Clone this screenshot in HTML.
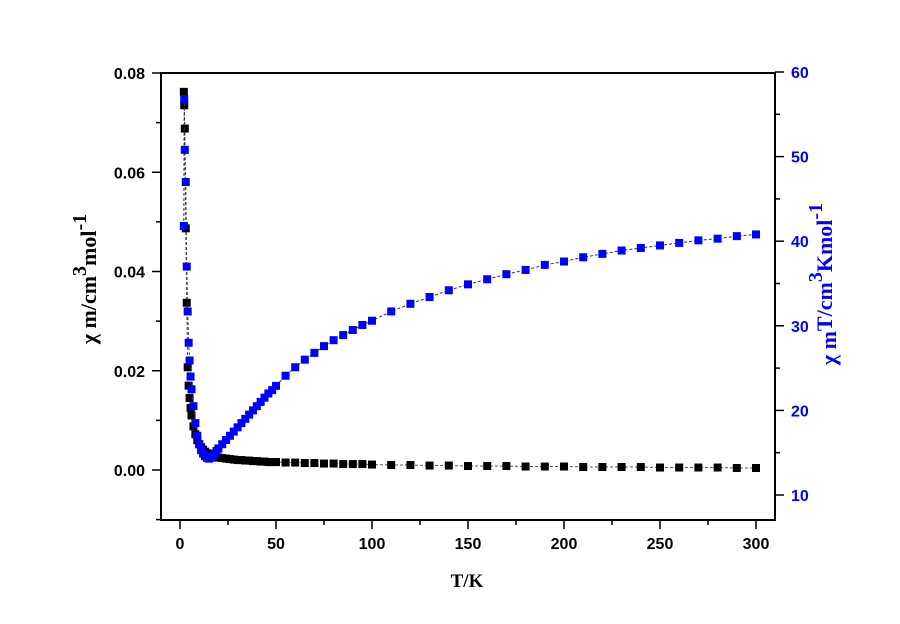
<!DOCTYPE html>
<html><head><meta charset="utf-8"><style>
body{margin:0;background:#fff}
svg{display:block;font-family:"Liberation Sans",Arial,sans-serif;font-weight:bold}
</style></head><body>
<svg id="c" width="900" height="624">
<rect x="0" y="0" width="900" height="624" fill="#fff"/>
</svg>
<script>
const T=[2,2.2,2.5,3,3.5,4,4.5,5,5.5,6,7,8,9,10,11,12,13,14,15,16,17,18,19,20,22,24,26,28,30,32,34,36,38,40,42,44,46,48,50,55,60,65,70,75,80,85,90,95,100,110,120,130,140,150,160,170,180,190,200,210,220,230,240,250,260,270,280,290,300];
const chi=[0.0762,0.0735,0.0688,0.0487,0.0337,0.0207,0.017,0.0145,0.0125,0.011,0.0088,0.0072,0.006,0.0052,0.0046,0.0041,0.0037,0.0034,0.0031,0.0029,0.0028,0.0027,0.0026,0.0025,0.0024,0.0023,0.0022,0.0021,0.0020,0.0020,0.0019,0.0019,0.0018,0.0018,0.0017,0.0017,0.0016,0.0016,0.0016,0.0015,0.0015,0.0014,0.0014,0.0013,0.0013,0.0012,0.0012,0.0012,0.0011,0.0010,0.0010,0.0009,0.0009,0.0008,0.0008,0.0008,0.0007,0.0007,0.0007,0.0006,0.0006,0.0006,0.0006,0.0005,0.0005,0.0005,0.0005,0.0004,0.0004];
const chiT=[41.8,56.8,50.8,47,37,31.7,28,25.9,24,22.5,20.5,18.5,17,16,15.3,14.9,14.6,14.4,14.3,14.4,14.6,14.9,15.2,15.5,16,16.5,17,17.5,18,18.5,19,19.5,20,20.5,21,21.5,22,22.4,22.9,24.1,25.1,26,26.8,27.6,28.3,28.9,29.5,30.1,30.6,31.7,32.6,33.4,34.2,34.9,35.5,36.1,36.6,37.2,37.6,38.1,38.5,38.9,39.2,39.5,39.8,40.1,40.3,40.6,40.8];
const xTicks=[0,50,100,150,200,250,300];
const yLTicks=["0.00","0.02","0.04","0.06","0.08"];
const yRTicks=[10,20,30,40,50,60];
const svg=document.getElementById('c');const NS='http://www.w3.org/2000/svg';
const L=161,R=775,Tp=73,B=520;
const xs=v=>180+(v-0)*(756-180)/300;
const yl=v=>470-v*(470-73)/0.08;
const yr=v=>495-(v-10)*(495-72)/50;
function el(t,a,p){const e=document.createElementNS(NS,t);for(const k in a)e.setAttribute(k,a[k]);(p||svg).appendChild(e);return e;}
const frame=el('rect',{x:L,y:Tp,width:R-L,height:B-Tp,fill:'none',stroke:'#000','stroke-width':2});


for(let v=0;v<=300;v+=25){const t=el('line',{x1:xs(v),x2:xs(v),y1:B,y2:B+(v%50?5:9),stroke:'#000','stroke-width':1.5});

}
xTicks.forEach(v=>{const t=el('text',{x:xs(v),y:B+29,'text-anchor':'middle','font-size':16});t.textContent=v;

});
for(let v=-0.01;v<=0.0801;v+=0.01){const t=el('line',{x1:L,x2:L-(Math.round(v*100)%2?5:9),y1:yl(v),y2:yl(v),stroke:'#000','stroke-width':1.5});

}
yLTicks.forEach(s=>{const t=el('text',{x:L-16,y:yl(+s)+6,'text-anchor':'end','font-size':16});t.textContent=s;

});
for(let v=10;v<=60;v+=5){const t=el('line',{x1:R,x2:R+(v%10?5:9),y1:yr(v),y2:yr(v),stroke:'#000','stroke-width':1.5});

}
yRTicks.forEach(v=>{const t=el('text',{x:R+16,y:yr(v)+6,'text-anchor':'start','font-size':16,fill:'#0000ff'});t.textContent=v;

});
function series(vals,ys,col,line,name){
 const pts=T.map((t,i)=>xs(t)+','+ys(vals[i])).join(' ');
 const pl=el('polyline',{points:pts,fill:'none',stroke:line,'stroke-width':1,'stroke-dasharray':'3,2'});
 
 
 T.forEach((t,i)=>{const r=el('rect',{x:xs(t)-4,y:ys(vals[i])-4,width:8,height:8,fill:col});
 
 });
}
series(chi,yl,'#000','#555','chi');
series(chiT,yr,'#0000ff','#333','chiT');
const xt=el('text',{x:467,y:587,'text-anchor':'middle','font-size':19,'font-family':'Liberation Serif,serif'});xt.textContent='T/K';


const lt=el('text',{transform:'translate(96,279) rotate(-90)','text-anchor':'middle','font-size':22,'font-family':'Liberation Serif,serif'});
lt.innerHTML='χ <tspan>m</tspan><tspan>/cm</tspan><tspan dy="-10" font-size="20">3</tspan><tspan dy="10">mol</tspan><tspan dy="-10" font-size="20">-1</tspan>';


const rt=el('text',{transform:'translate(836,284) rotate(-90)','text-anchor':'middle','font-size':22,fill:'#0000ff','font-family':'Liberation Serif,serif'});
rt.innerHTML='χ <tspan>m</tspan><tspan dy="-4">T/cm</tspan><tspan dy="-10" font-size="20">3</tspan><tspan dy="10">Kmol</tspan><tspan dy="-10" font-size="20">-1</tspan>';


</script>
</body></html>
